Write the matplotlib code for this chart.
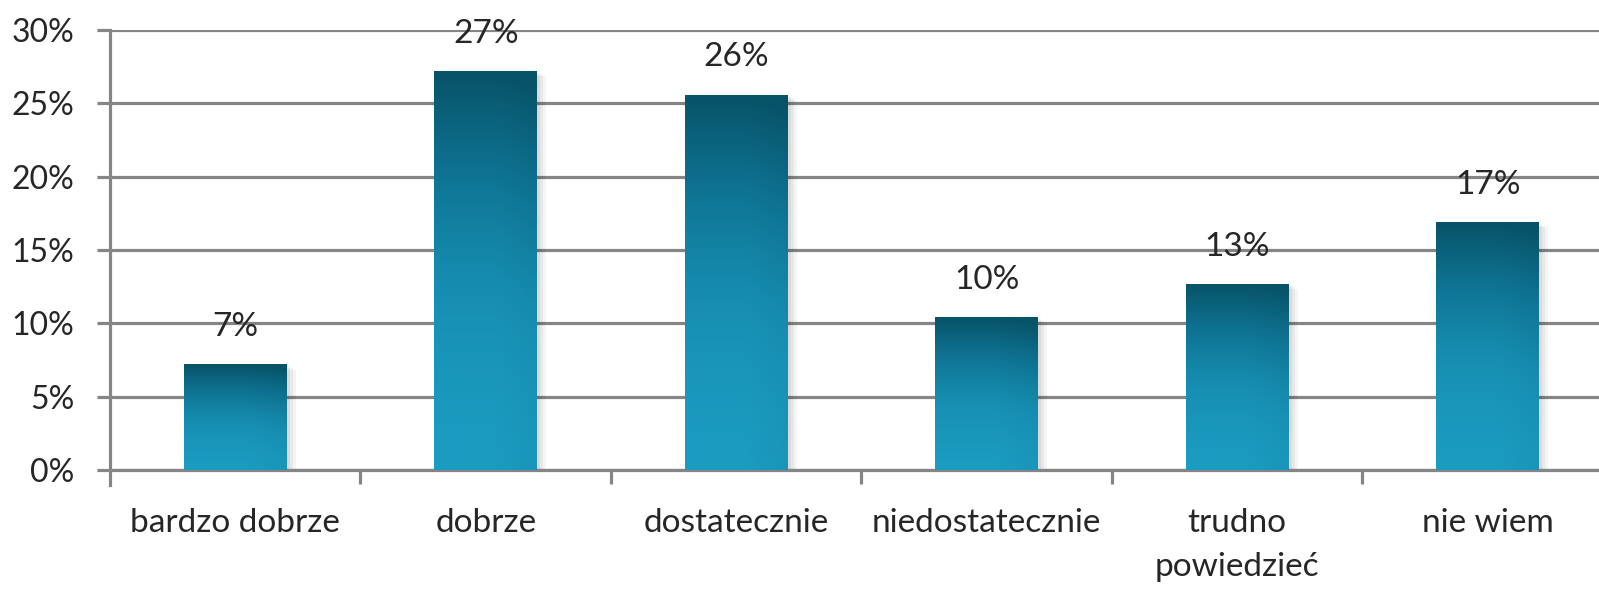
import matplotlib
matplotlib.use('Agg')
import matplotlib.pyplot as plt
import numpy as np
from matplotlib.colors import LinearSegmentedColormap
from matplotlib.patches import Rectangle

categories = ['bardzo dobrze', 'dobrze', 'dostatecznie', 'niedostatecznie', 'trudno\npowiedzieć', 'nie wiem']
values = [7.2, 27.2, 25.6, 10.4, 12.7, 16.9]
labels = ['7%', '27%', '26%', '10%', '13%', '17%']
yticks = [0, 5, 10, 15, 20, 25, 30]

plt.rcParams['font.family'] = ['Lato', 'DejaVu Sans']

fig = plt.figure(figsize=(15.99, 5.92), dpi=100)
ax = fig.add_axes([110 / 1599, 1 - 470 / 592, 1503 / 1599, 440 / 592])

grid_c = '#858585'
text_c = '#262626'

x = np.arange(len(categories))
bars = ax.bar(x, values, width=0.41, color='none', edgecolor='none', zorder=3)

# gradient fill: dark teal on top, light blue at the bottom, darker toward the right
ny, nx = 200, 60
yy = np.linspace(0, 1, ny)[:, None]
xx = np.linspace(0, 1, nx)[None, :]
shade = 0.05 + 0.95 * (1 - yy) ** 1.6 * np.ones_like(xx)
shade = shade + 0.3 * np.clip(xx - 0.6, 0, None) * (0.4 + 0.6 * yy)
shade = np.clip(shade, 0, 1)
cmap = LinearSegmentedColormap.from_list('teal', ['#1c9ec3', '#168db0', '#0e7190', '#075367'])

for b in bars:
    x0, y0 = b.get_x(), b.get_y()
    w, h = b.get_width(), b.get_height()
    # soft shadow
    for i, a in enumerate([0.06, 0.05, 0.04]):
        ax.add_patch(Rectangle((x0 + 0.012 * (i + 1), y0 - 0.12 * (i + 1)), w, h,
                               facecolor='black', alpha=a, edgecolor='none', zorder=2.5))
    im = ax.imshow(shade, extent=[x0, x0 + w, y0, y0 + h], cmap=cmap, vmin=0, vmax=1,
                   aspect='auto', origin='upper', zorder=3.2, interpolation='bilinear')
    im.set_clip_path(b)

for xi, v, lab in zip(x, values, labels):
    ax.annotate(lab, (xi, v), xytext=(0, 16), textcoords='offset points',
                ha='center', va='bottom', fontsize=24, color=text_c)

ax.set_xlim(-0.5, 5.5)
ax.set_ylim(0, 30)
ax.set_yticks(yticks)
ax.set_yticklabels([f'{t}%' for t in yticks])
ax.yaxis.grid(True, color=grid_c, linewidth=2.3, zorder=1)
ax.set_axisbelow(True)

ax.set_xticks(x)
ax.set_xticklabels(categories, linespacing=1.6)
ax.set_xticks(np.arange(0.5, 6, 1), minor=True)
ax.tick_params(axis='x', which='major', length=0, pad=27, labelsize=24, labelcolor=text_c)
ax.tick_params(axis='x', which='minor', length=10, width=2.3, color=grid_c)
ax.tick_params(axis='y', length=9.5, width=2.3, color=grid_c, pad=16, labelsize=23, labelcolor=text_c)

for s in ['top', 'right']:
    ax.spines[s].set_visible(False)
for s in ['left', 'bottom']:
    ax.spines[s].set_color(grid_c)
    ax.spines[s].set_linewidth(2.3)
ax.spines['left'].set_bounds(-1.0, 30)
ax.spines['left'].set_zorder(1)

fig.savefig('out.png', dpi=100)
